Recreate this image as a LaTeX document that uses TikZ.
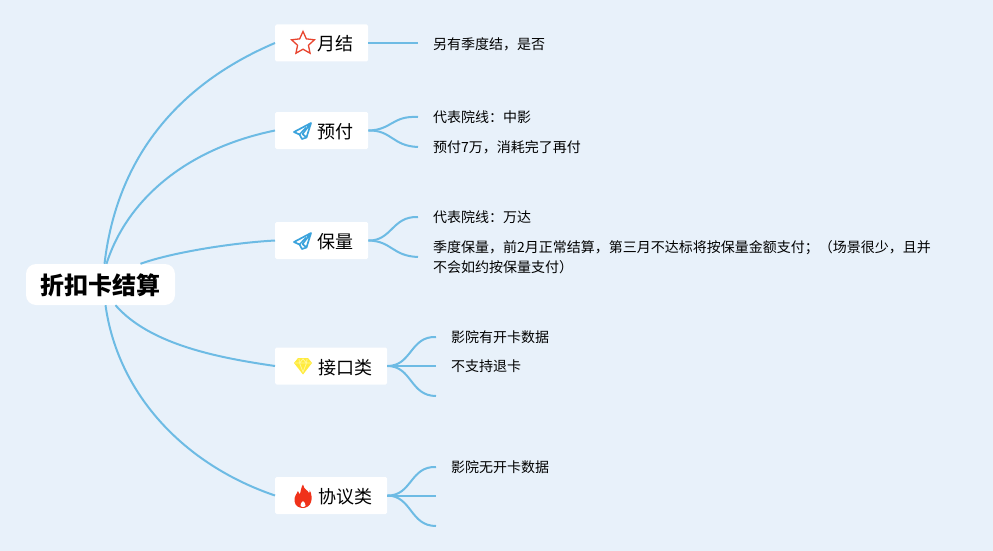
\documentclass[tikz,border=0pt]{standalone}
\usepackage{fontspec}
\setmainfont{Noto Sans CJK SC}
\usepackage{tikz}
\usetikzlibrary{shapes.geometric}
\definecolor{bgblue}{HTML}{E8F1FA}
\definecolor{linkblue}{HTML}{6DBBE4}
\definecolor{starred}{HTML}{E8452F}
\definecolor{planeblue}{HTML}{3BA3DC}
\definecolor{gemyellow}{HTML}{FFEB3C}
\definecolor{gemlight}{HTML}{FFF79A}
\definecolor{flamered}{HTML}{F0321A}
\tikzstyle{rootbox} = [rectangle, rounded corners=10pt, minimum width=149pt, minimum height=41pt, inner sep=0pt, text centered, text height=23pt, text depth=2.5pt, fill=white, font=\fontsize{24}{28}\selectfont\bfseries]
\tikzstyle{branch} = [rectangle, rounded corners=1.5pt, anchor=west, minimum height=37pt, inner ysep=0pt, inner xsep=15pt, text width=63pt, text height=18pt, text depth=2pt, align=right, fill=white, font=\fontsize{18}{22}\selectfont]
\tikzstyle{widebranch} = [branch, text width=82pt]
\tikzstyle{leaf} = [anchor=west, inner xsep=15pt, inner ysep=0pt, align=left, font=\fontsize{14}{20.5}\selectfont]
\tikzstyle{link} = [line width=2pt, draw=linkblue]
\tikzset{
  planeicon/.pic={
    \draw [planeblue, line width=1.7pt, line join=round] (8,-8) -- (-9,1) -- (-3.5,3.5) -- (-1,8) -- (3.5,6.5) -- (-0.5,3) -- (8,-8) -- (3.5,6.5);
    \draw [planeblue, line width=1.5pt] (-3.5,3.5) -- (3,-3.5);
  },
  gemicon/.pic={
    \fill [gemyellow] (-5,-8) -- (5,-8) -- (9,-3) -- (0,8.5) -- (-9,-3) -- cycle;
    \draw [gemlight, line width=0.8pt] (-8,-3) -- (8,-3) (-4,-7) -- (-3.5,-3) -- (0,6) -- (3.5,-3) -- (4,-7) (-3.5,-3) -- (0,-7) -- (3.5,-3);
  },
  flameicon/.pic={
    \fill [flamered] (0,-11.5) .. controls (1,-6) and (5,-6) .. (6,-3) .. controls (6.5,-3) and (7,-5) .. (6.5,-6) .. controls (9,-2) and (9,3) .. (8,6) .. controls (7,10) and (3,12) .. (0,12) .. controls (-4,12) and (-8,10) .. (-8.5,5) .. controls (-9,0) and (-6,-2) .. (-5,-5) .. controls (-4,-3) and (-4,-2) .. (-3,-2) .. controls (-2,-5) and (-2,-9) .. (0,-11.5) -- cycle;
    \fill [white] (0,5) .. controls (1,6.5) and (3,7.5) .. (2.5,9.5) .. controls (2,11.5) and (-2,11.5) .. (-2.5,9.5) .. controls (-3,7.5) and (-1,6.5) .. (0,5) -- cycle;
  }
}

\begin{document}
\begin{tikzpicture}[x=1pt, y=-1pt]
            \fill [bgblue] (0,0) rectangle (993,551);
            \useasboundingbox (0,0) rectangle (993,551);

            \node (root) [rootbox] at (100.5,284.5) {折扣卡结算};

            \node (yuejie) [branch] at (275,43) {月结};
            \node (yufu) [branch] at (275,130.5) {预付};
            \node (baoliang) [branch] at (275,240.5) {保量};
            \node (jiekou) [widebranch] at (275,366) {接口类};
            \node (xieyi) [widebranch] at (275,495.5) {协议类};

            \node (staricon) [star, star points=5, star point ratio=2.1, draw=starred, line width=1.3pt, minimum size=24pt, inner sep=0pt] at (303,43.5) {};
            \pic at (303,131) {planeicon};
            \pic at (303,241) {planeicon};
            \pic at (303,366) {gemicon};
            \pic at (303,496) {flameicon};

            \node (jidu) [leaf] at (418,44) {另有季度结，是否};
            \node (zhongying) [leaf] at (418,117) {代表院线：中影};
            \node (yufuqi) [leaf] at (418,147) {预付7万，消耗完了再付};
            \node (wanda) [leaf] at (418,217) {代表院线：万达};
            \node (jibao) [leaf] at (418,257) {季度保量，前2月正常结算，第三月不达标将按保量金额支付；（场景很少，且并\\不会如约按保量支付）};
            \node (youka) [leaf] at (436,337) {影院有开卡数据};
            \node (tuika) [leaf] at (436,366) {不支持退卡};
            \coordinate (jiekouend) at (436,396);
            \node (wuka) [leaf] at (436,467) {影院无开卡数据};
            \coordinate (xieyimid) at (436,495.5);
            \coordinate (xieyiend) at (436,526);

            % root to branches
            \draw [link] ([xshift=4pt]root.north) .. controls (118,148) and (188,80) .. (yuejie.west);
            \draw [link] ([xshift=6pt]root.north) .. controls (125,205) and (180,150) .. (yufu.west);
            \draw [link] ([xshift=40pt]root.north) .. controls (170,253) and (230,243) .. (baoliang.west);
            \draw [link] ([xshift=15pt]root.south) .. controls (150,345) and (220,358) .. (jiekou.west);
            \draw [link] ([xshift=5pt]root.south) .. controls (118,395) and (185,465) .. (xieyi.west);

            % branches to leaves
            \draw [link] (yuejie.east) -- (418,43);
            \draw [link] (yufu.east) .. controls (392,130) and (392,115.5) .. (zhongying.west);
            \draw [link] (yufu.east) .. controls (392,130) and (392,146) .. (yufuqi.west);
            \draw [link] (baoliang.east) .. controls (392,241) and (392,216) .. (wanda.west);
            \draw [link] (baoliang.east) .. controls (392,241) and (392,256) .. (jibao.west);
            \draw [link] (jiekou.east) .. controls (412,366) and (410,336) .. (youka.west);
            \draw [link] (jiekou.east) -- (tuika.west);
            \draw [link] (jiekou.east) .. controls (412,366) and (410,396) .. (jiekouend);
            \draw [link] (xieyi.east) .. controls (412,496) and (410,466) .. (wuka.west);
            \draw [link] (xieyi.east) -- (xieyimid);
            \draw [link] (xieyi.east) .. controls (412,496) and (410,526) .. (xieyiend);
        \end{tikzpicture}
\end{document}
